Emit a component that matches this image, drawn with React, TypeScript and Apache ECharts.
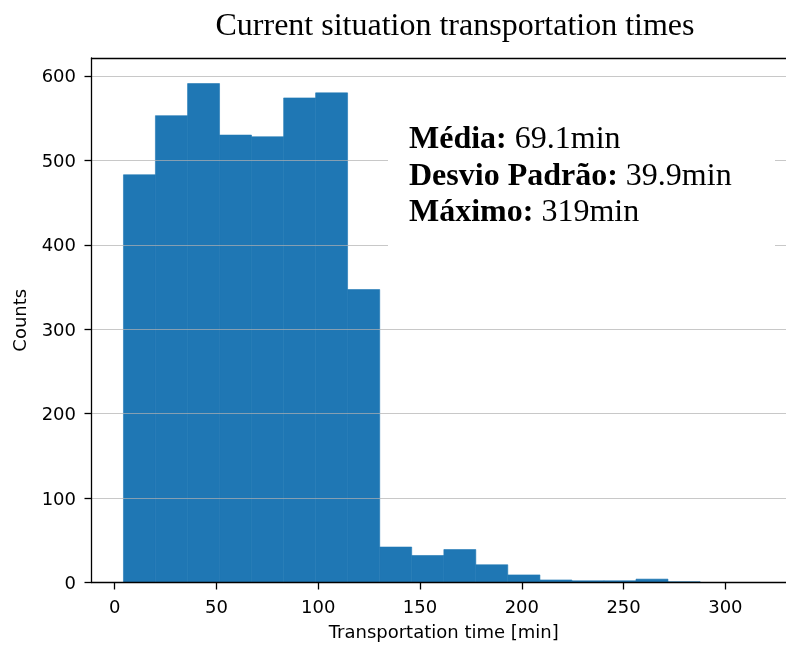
import React, { useEffect, useRef } from "react";
import * as echarts from "echarts";

const binEdges = [4.3, 20.0, 35.8, 51.5, 67.2, 83.0, 98.7, 114.4, 130.2, 145.9, 161.7, 177.4, 193.1, 208.9, 224.6, 240.4, 256.1, 271.8, 287.6, 303.3, 319.0];
const counts = [483, 553, 591, 530, 528, 574, 580, 347, 42, 32, 39, 21, 9, 3, 2, 2, 4, 1, 0, 0];
const xTicks = [0, 50, 100, 150, 200, 250, 300];
const yTicks = [0, 100, 200, 300, 400, 500, 600];
const titleText = "Current situation transportation times";
const statLabels = ["Média:", "Desvio Padrão:", "Máximo:"];
const statValues = [" 69.1min", " 39.9min", " 319min"];

export default function App() {
  const ref = useRef<HTMLDivElement>(null);
  useEffect(() => {
    if (!ref.current) return;
    const chart = echarts.init(ref.current, null, { renderer: "svg" });
    const data = counts.map((c, i) => [binEdges[i], binEdges[i + 1], c]);
    const sans = "DejaVu Sans";
    const serif = "Liberation Serif";
    const statLines = [137.2, 174.2, 210.2];
    chart.setOption({
      animation: false,
      grid: {
        left: 91.5,
        top: 58,
        width: 704.5,
        height: 524.5,
        show: false,
        containLabel: false,
        outerBoundsMode: "none",
      },
      xAxis: [
        {
          type: "value",
          min: -11.4,
          max: 334.7,
          z: 4,
          name: "Transportation time [min]",
          nameLocation: "middle",
          nameGap: 40,
          nameTextStyle: { fontFamily: sans, fontSize: 18, color: "#000" },
          axisLine: { show: true, onZero: false, lineStyle: { color: "#000", width: 1.3 } },
          axisTick: { show: true, length: 7, customValues: xTicks, lineStyle: { color: "#000", width: 1.3 } },
          axisLabel: { customValues: xTicks, fontFamily: sans, fontSize: 18, color: "#000", margin: 15 },
          splitLine: { show: false },
        },
        {
          type: "value",
          position: "top",
          min: -11.4,
          max: 334.7,
          z: 4,
          axisLine: { show: true, onZero: false, lineStyle: { color: "#000", width: 1.3 } },
          axisTick: { show: false },
          axisLabel: { show: false },
          splitLine: { show: false },
        },
      ],
      yAxis: {
        type: "value",
        min: 0,
        max: 621.3,
        interval: 100,
        z: 3,
        name: "Counts",
        nameLocation: "middle",
        nameGap: 63,
        nameRotate: 90,
        nameTextStyle: { fontFamily: sans, fontSize: 18, color: "#000" },
        axisLine: { show: true, onZero: false, lineStyle: { color: "#000", width: 1.3 } },
        axisTick: { show: true, length: 7, customValues: yTicks, lineStyle: { color: "#000", width: 1.3 } },
        axisLabel: { customValues: yTicks, fontFamily: sans, fontSize: 18, color: "#000", margin: 15.5 },
        splitLine: { show: true, lineStyle: { color: "#b0b0b0", opacity: 0.7, width: 1 } },
      },
      series: [
        {
          type: "custom",
          z: 2,
          encode: { x: [0, 1], y: 2 },
          data,
          renderItem: (params: any, api: any) => {
            const x0 = api.value(0);
            const x1 = api.value(1);
            const y = api.value(2);
            if (!y) return null;
            const p0 = api.coord([x0, y]);
            const p1 = api.coord([x1, 0]);
            return {
              type: "rect",
              shape: { x: p0[0], y: p0[1], width: p1[0] - p0[0], height: p1[1] - p0[1] },
              style: { fill: "#1f77b4", stroke: "#1f77b4", lineWidth: 0.6 },
            };
          },
        },
      ],
      graphic: [
        {
          type: "text",
          x: 455,
          y: 24,
          z: 100,
          style: {
            text: titleText,
            fontFamily: serif,
            fontSize: 32,
            fill: "#000",
            textAlign: "center",
            textVerticalAlign: "middle",
          },
        },
        {
          type: "rect",
          z: 90,
          shape: { x: 388, y: 96, width: 387, height: 156 },
          style: { fill: "#fff" },
        },
        ...statLabels.map((lab, i) => ({
          type: "text",
          x: 409,
          y: statLines[i],
          z: 100,
          style: {
            text: `{b|${lab}}{n|${statValues[i]}}`,
            rich: {
              b: { fontFamily: serif, fontSize: 32, fontWeight: "bold", fill: "#000" },
              n: { fontFamily: serif, fontSize: 32, fontWeight: "normal", fill: "#000" },
            },
            fontFamily: serif,
            fontSize: 32,
            textAlign: "left",
            textVerticalAlign: "middle",
          },
        })),
      ],
    });
    return () => chart.dispose();
  }, []);
  return <div ref={ref} style={{ position: "fixed", left: 0, top: 0, width: 786, height: 646 }} />;
}
